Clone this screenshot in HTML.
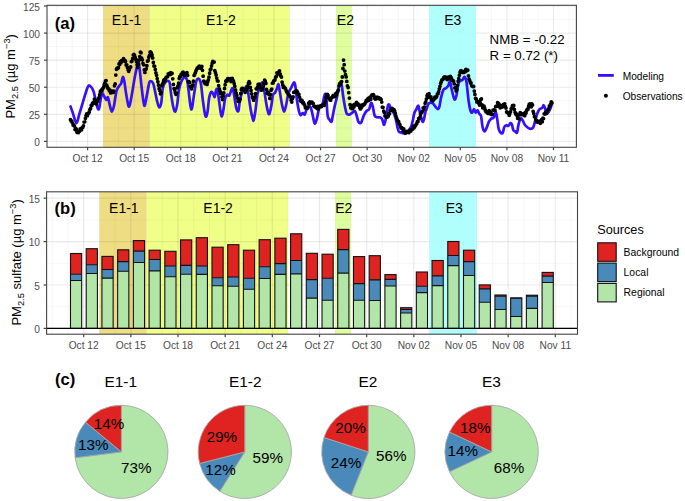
<!DOCTYPE html><html><head><meta charset="utf-8"><style>html,body{margin:0;padding:0;background:#fff;}svg{display:block;}text{font-family:"Liberation Sans", sans-serif;}</style></head><body>
<svg width="685" height="501" viewBox="0 0 685 501">
<rect width="685" height="501" fill="#fff"/>
<clipPath id="ca"><rect x="47" y="5.3" width="529.4" height="142"/></clipPath>
<rect x="47" y="5.3" width="529.4" height="142" fill="#fff"/>
<g clip-path="url(#ca)">
<rect x="103.13" y="5.3" width="46.59" height="142" fill="#EFDD83"/>
<rect x="149.72" y="5.3" width="139.77" height="142" fill="#F0FF87"/>
<rect x="336.08" y="5.3" width="15.53" height="142" fill="#DFFE9D"/>
<rect x="429.26" y="5.3" width="46.59" height="142" fill="#B0FFFB"/>
<line x1="47" x2="576.4" y1="127.86" y2="127.86" stroke="#000" stroke-opacity="0.05" stroke-width="0.7"/>
<line x1="47" x2="576.4" y1="100.78" y2="100.78" stroke="#000" stroke-opacity="0.05" stroke-width="0.7"/>
<line x1="47" x2="576.4" y1="73.7" y2="73.7" stroke="#000" stroke-opacity="0.05" stroke-width="0.7"/>
<line x1="47" x2="576.4" y1="46.62" y2="46.62" stroke="#000" stroke-opacity="0.05" stroke-width="0.7"/>
<line x1="47" x2="576.4" y1="19.54" y2="19.54" stroke="#000" stroke-opacity="0.05" stroke-width="0.7"/>
<line x1="47" x2="576.4" y1="141.4" y2="141.4" stroke="#000" stroke-opacity="0.08" stroke-width="1.2"/>
<line x1="47" x2="576.4" y1="114.32" y2="114.32" stroke="#000" stroke-opacity="0.08" stroke-width="1.2"/>
<line x1="47" x2="576.4" y1="87.24" y2="87.24" stroke="#000" stroke-opacity="0.08" stroke-width="1.2"/>
<line x1="47" x2="576.4" y1="60.16" y2="60.16" stroke="#000" stroke-opacity="0.08" stroke-width="1.2"/>
<line x1="47" x2="576.4" y1="33.08" y2="33.08" stroke="#000" stroke-opacity="0.08" stroke-width="1.2"/>
<line x1="47" x2="576.4" y1="6" y2="6" stroke="#000" stroke-opacity="0.08" stroke-width="1.2"/>
<line x1="56.54" x2="56.54" y1="5.3" y2="147.3" stroke="#000" stroke-opacity="0.05" stroke-width="0.7"/>
<line x1="72.07" x2="72.07" y1="5.3" y2="147.3" stroke="#000" stroke-opacity="0.05" stroke-width="0.7"/>
<line x1="87.6" x2="87.6" y1="5.3" y2="147.3" stroke="#000" stroke-opacity="0.08" stroke-width="1.2"/>
<line x1="103.13" x2="103.13" y1="5.3" y2="147.3" stroke="#000" stroke-opacity="0.05" stroke-width="0.7"/>
<line x1="118.66" x2="118.66" y1="5.3" y2="147.3" stroke="#000" stroke-opacity="0.05" stroke-width="0.7"/>
<line x1="134.19" x2="134.19" y1="5.3" y2="147.3" stroke="#000" stroke-opacity="0.08" stroke-width="1.2"/>
<line x1="149.72" x2="149.72" y1="5.3" y2="147.3" stroke="#000" stroke-opacity="0.05" stroke-width="0.7"/>
<line x1="165.25" x2="165.25" y1="5.3" y2="147.3" stroke="#000" stroke-opacity="0.05" stroke-width="0.7"/>
<line x1="180.78" x2="180.78" y1="5.3" y2="147.3" stroke="#000" stroke-opacity="0.08" stroke-width="1.2"/>
<line x1="196.31" x2="196.31" y1="5.3" y2="147.3" stroke="#000" stroke-opacity="0.05" stroke-width="0.7"/>
<line x1="211.84" x2="211.84" y1="5.3" y2="147.3" stroke="#000" stroke-opacity="0.05" stroke-width="0.7"/>
<line x1="227.37" x2="227.37" y1="5.3" y2="147.3" stroke="#000" stroke-opacity="0.08" stroke-width="1.2"/>
<line x1="242.9" x2="242.9" y1="5.3" y2="147.3" stroke="#000" stroke-opacity="0.05" stroke-width="0.7"/>
<line x1="258.43" x2="258.43" y1="5.3" y2="147.3" stroke="#000" stroke-opacity="0.05" stroke-width="0.7"/>
<line x1="273.96" x2="273.96" y1="5.3" y2="147.3" stroke="#000" stroke-opacity="0.08" stroke-width="1.2"/>
<line x1="289.49" x2="289.49" y1="5.3" y2="147.3" stroke="#000" stroke-opacity="0.05" stroke-width="0.7"/>
<line x1="305.02" x2="305.02" y1="5.3" y2="147.3" stroke="#000" stroke-opacity="0.05" stroke-width="0.7"/>
<line x1="320.55" x2="320.55" y1="5.3" y2="147.3" stroke="#000" stroke-opacity="0.08" stroke-width="1.2"/>
<line x1="336.08" x2="336.08" y1="5.3" y2="147.3" stroke="#000" stroke-opacity="0.05" stroke-width="0.7"/>
<line x1="351.61" x2="351.61" y1="5.3" y2="147.3" stroke="#000" stroke-opacity="0.05" stroke-width="0.7"/>
<line x1="367.14" x2="367.14" y1="5.3" y2="147.3" stroke="#000" stroke-opacity="0.08" stroke-width="1.2"/>
<line x1="382.67" x2="382.67" y1="5.3" y2="147.3" stroke="#000" stroke-opacity="0.05" stroke-width="0.7"/>
<line x1="398.2" x2="398.2" y1="5.3" y2="147.3" stroke="#000" stroke-opacity="0.05" stroke-width="0.7"/>
<line x1="413.73" x2="413.73" y1="5.3" y2="147.3" stroke="#000" stroke-opacity="0.08" stroke-width="1.2"/>
<line x1="429.26" x2="429.26" y1="5.3" y2="147.3" stroke="#000" stroke-opacity="0.05" stroke-width="0.7"/>
<line x1="444.79" x2="444.79" y1="5.3" y2="147.3" stroke="#000" stroke-opacity="0.05" stroke-width="0.7"/>
<line x1="460.32" x2="460.32" y1="5.3" y2="147.3" stroke="#000" stroke-opacity="0.08" stroke-width="1.2"/>
<line x1="475.85" x2="475.85" y1="5.3" y2="147.3" stroke="#000" stroke-opacity="0.05" stroke-width="0.7"/>
<line x1="491.38" x2="491.38" y1="5.3" y2="147.3" stroke="#000" stroke-opacity="0.05" stroke-width="0.7"/>
<line x1="506.91" x2="506.91" y1="5.3" y2="147.3" stroke="#000" stroke-opacity="0.08" stroke-width="1.2"/>
<line x1="522.44" x2="522.44" y1="5.3" y2="147.3" stroke="#000" stroke-opacity="0.05" stroke-width="0.7"/>
<line x1="537.97" x2="537.97" y1="5.3" y2="147.3" stroke="#000" stroke-opacity="0.05" stroke-width="0.7"/>
<line x1="553.5" x2="553.5" y1="5.3" y2="147.3" stroke="#000" stroke-opacity="0.08" stroke-width="1.2"/>
<line x1="569.03" x2="569.03" y1="5.3" y2="147.3" stroke="#000" stroke-opacity="0.05" stroke-width="0.7"/>
<rect x="429.26" y="5.3" width="46.59" height="142" fill="#B0FFFB" fill-opacity="0.85"/>
</g>
<g clip-path="url(#ca)">
<path d="M70.5,106.4C70.88,107.48 71.82,110.1 72.8,112.9C73.78,115.7 75.32,122.98 76.4,123.2C77.48,123.42 78.17,117.87 79.3,114.2C80.43,110.53 82.02,105.1 83.2,101.2C84.38,97.3 85.5,93.4 86.4,90.8C87.3,88.2 87.73,86.15 88.6,85.6C89.47,85.05 90.73,86.42 91.6,87.5C92.47,88.58 93.15,90.03 93.8,92.1C94.45,94.17 94.88,97.3 95.5,99.9C96.12,102.5 96.92,106.18 97.5,107.7C98.08,109.22 98.53,109.98 99,109C99.47,108.02 99.8,104.4 100.3,101.8C100.8,99.2 101.38,94.37 102,93.4C102.62,92.43 103.28,94.92 104,96C104.72,97.08 105.65,99.68 106.3,99.9C106.95,100.12 107.32,96.43 107.9,97.3C108.48,98.17 109.15,102.72 109.8,105.1C110.45,107.48 111.1,111.5 111.8,111.6C112.5,111.7 113.23,109.08 114,105.7C114.77,102.32 115.6,94.5 116.4,91.3C117.2,88.1 118,87.83 118.8,86.5C119.6,85.17 120.53,84.88 121.2,83.3C121.87,81.72 122.27,77.27 122.8,77C123.33,76.73 123.87,79.05 124.4,81.7C124.93,84.35 125.33,88.9 126,92.9C126.67,96.9 127.73,103.83 128.4,105.7C129.07,107.57 129.33,106.5 130,104.1C130.67,101.7 131.6,95.82 132.4,91.3C133.2,86.78 134,81.25 134.8,77C135.6,72.75 136.6,68.47 137.2,65.8C137.8,63.13 137.93,59.93 138.4,61C138.87,62.07 139.42,67.42 140,72.2C140.58,76.98 141.18,84.12 141.9,89.7C142.62,95.28 143.5,104.63 144.3,105.7C145.1,106.77 145.9,99.83 146.7,96.1C147.5,92.37 148.43,85.82 149.1,83.3C149.77,80.78 150.03,81 150.7,81C151.37,81 152.43,81.85 153.1,83.3C153.77,84.75 154.03,86.73 154.7,89.7C155.37,92.67 156.35,98.15 157.1,101.1C157.85,104.05 158.5,107.17 159.2,107.4C159.9,107.63 160.72,105.65 161.3,102.5C161.88,99.35 162.12,91.77 162.7,88.5C163.28,85.23 163.98,84.18 164.8,82.9C165.62,81.62 166.78,80.8 167.6,80.8C168.42,80.8 169.12,80.68 169.7,82.9C170.28,85.12 170.52,90.13 171.1,94.1C171.68,98.07 172.5,103.78 173.2,106.7C173.9,109.62 174.62,112.07 175.3,111.6C175.98,111.13 176.73,107.28 177.3,103.9C177.87,100.52 178.12,94.8 178.7,91.3C179.28,87.8 179.87,85.23 180.8,82.9C181.73,80.57 183.25,77.77 184.3,77.3C185.35,76.83 186.4,78 187.1,80.1C187.8,82.2 187.92,85.47 188.5,89.9C189.08,94.33 190.02,103.67 190.6,106.7C191.18,109.73 191.42,110.2 192,108.1C192.58,106 193.4,98.53 194.1,94.1C194.8,89.67 195.5,84.07 196.2,81.5C196.9,78.93 197.6,78.7 198.3,78.7C199,78.7 199.88,80.1 200.4,81.5C200.92,82.9 201,84.07 201.4,87.1C201.8,90.13 202.22,95.27 202.8,99.7C203.38,104.13 204.32,110.9 204.9,113.7C205.48,116.5 205.83,116.97 206.3,116.5C206.77,116.03 207.23,113.93 207.7,110.9C208.17,107.87 208.52,101.45 209.1,98.3C209.68,95.15 210.5,92.7 211.2,92C211.9,91.3 212.72,93.28 213.3,94.1C213.88,94.92 214.23,97.6 214.7,96.9C215.17,96.2 215.63,91.07 216.1,89.9C216.57,88.73 217.03,88.27 217.5,89.9C217.97,91.53 218.33,95.73 218.9,99.7C219.47,103.67 220.37,111.02 220.9,113.7C221.43,116.38 221.63,116.73 222.1,115.8C222.57,114.87 223.2,111.02 223.7,108.1C224.2,105.18 224.52,100.52 225.1,98.3C225.68,96.08 226.5,95.27 227.2,94.8C227.9,94.33 228.6,96.32 229.3,95.5C230,94.68 230.82,91.07 231.4,89.9C231.98,88.73 232.33,87.57 232.8,88.5C233.27,89.43 233.62,92.23 234.2,95.5C234.78,98.77 235.6,105.53 236.3,108.1C237,110.67 237.82,112.07 238.4,110.9C238.98,109.73 239.22,104.13 239.8,101.1C240.38,98.07 241.08,94.8 241.9,92.7C242.72,90.6 243.83,89.53 244.7,88.5C245.57,87.47 246.47,85.43 247.1,86.5C247.73,87.57 247.92,91.17 248.5,94.9C249.08,98.63 249.9,104.93 250.6,108.9C251.3,112.87 252.18,116.83 252.7,118.7C253.22,120.57 253.23,121.5 253.7,120.1C254.17,118.7 254.85,114.73 255.5,110.3C256.15,105.87 256.78,97.47 257.6,93.5C258.42,89.53 259.58,88.37 260.4,86.5C261.22,84.63 261.92,82.07 262.5,82.3C263.08,82.53 263.32,84.63 263.9,87.9C264.48,91.17 265.32,97.93 266,101.9C266.68,105.87 267.43,109.72 268,111.7C268.57,113.68 268.82,114.97 269.4,113.8C269.98,112.63 270.92,107.85 271.5,104.7C272.08,101.55 272.32,96.88 272.9,94.9C273.48,92.92 274.3,93.97 275,92.8C275.7,91.63 276.52,89.3 277.1,87.9C277.68,86.5 278.03,83.7 278.5,84.4C278.97,85.1 279.32,88.72 279.9,92.1C280.48,95.48 281.3,101.43 282,104.7C282.7,107.97 283.4,111.7 284.1,111.7C284.8,111.7 285.5,107.73 286.2,104.7C286.9,101.67 287.48,96.3 288.3,93.5C289.12,90.7 290.12,89.77 291.1,87.9C292.08,86.03 293.45,82.3 294.2,82.3C294.95,82.3 295.13,84.87 295.6,87.9C296.07,90.93 296.42,96.53 297,100.5C297.58,104.47 298.52,109.25 299.1,111.7C299.68,114.15 299.92,114.97 300.5,115.2C301.08,115.43 301.9,113.22 302.6,113.1C303.3,112.98 304,115.2 304.7,114.5C305.4,113.8 305.98,110.3 306.8,108.9C307.62,107.5 308.8,105.87 309.6,106.1C310.4,106.33 310.92,107.97 311.6,110.3C312.28,112.63 313.12,117.9 313.7,120.1C314.28,122.3 314.52,123.97 315.1,123.5C315.68,123.03 316.5,119.97 317.2,117.3C317.9,114.63 318.48,109.37 319.3,107.5C320.12,105.63 321.28,107.97 322.1,106.1C322.92,104.23 323.62,98.28 324.2,96.3C324.78,94.32 325.2,93.27 325.6,94.2C326,95.13 326.25,98.28 326.6,101.9C326.95,105.52 327.17,112.87 327.7,115.9C328.23,118.93 329.15,119.17 329.8,120.1C330.45,121.03 331.02,122.67 331.6,121.5C332.18,120.33 332.78,115.67 333.3,113.1C333.82,110.53 334.12,108.67 334.7,106.1C335.28,103.53 336.1,100.97 336.8,97.7C337.5,94.43 338.15,88.92 338.9,86.5C339.65,84.08 340.6,81.65 341.3,83.2C342,84.75 342.5,91.92 343.1,95.8C343.7,99.68 344.3,103.52 344.9,106.5C345.5,109.48 345.95,112.35 346.7,113.7C347.45,115.05 348.5,114.75 349.4,114.6C350.3,114.45 351.2,113.4 352.1,112.8C353,112.2 354.05,110.55 354.8,111C355.55,111.45 356,113.7 356.6,115.5C357.2,117.3 357.65,120.6 358.4,121.8C359.15,123 360.2,123.75 361.1,122.7C362,121.65 362.9,117.45 363.8,115.5C364.7,113.55 365.6,112.05 366.5,111C367.4,109.95 368.45,110.53 369.2,109.2C369.95,107.87 370.4,103.45 371,103C371.6,102.55 372.2,104.42 372.8,106.5C373.4,108.58 373.85,113.7 374.6,115.5C375.35,117.3 376.4,117 377.3,117.3C378.2,117.6 379.2,117 380,117.3C380.8,117.6 381.4,117.87 382.1,119.1C382.8,120.33 383.5,125.17 384.2,124.7C384.9,124.23 385.72,119.33 386.3,116.3C386.88,113.27 387.23,108.48 387.7,106.5C388.17,104.52 388.63,104.17 389.1,104.4C389.57,104.63 390.03,106.85 390.5,107.9C390.97,108.95 391.32,109.77 391.9,110.7C392.48,111.63 393.3,111.87 394,113.5C394.7,115.13 395.52,118.17 396.1,120.5C396.68,122.83 397.03,125.63 397.5,127.5C397.97,129.37 398.33,130.88 398.9,131.7C399.47,132.52 400.22,132.17 400.9,132.4C401.58,132.63 402.3,132.87 403,133.1C403.7,133.33 404.4,134.03 405.1,133.8C405.8,133.57 406.5,132.4 407.2,131.7C407.9,131 408.6,130.53 409.3,129.6C410,128.67 410.82,127.62 411.4,126.1C411.98,124.58 412.33,122.6 412.8,120.5C413.27,118.4 413.62,115.37 414.2,113.5C414.78,111.63 415.6,110.58 416.3,109.3C417,108.02 417.82,105.33 418.4,105.8C418.98,106.27 419.33,110.12 419.8,112.1C420.27,114.08 420.73,116.07 421.2,117.7C421.67,119.33 422.13,121.67 422.6,121.9C423.07,122.13 423.53,120.73 424,119.1C424.47,117.47 424.97,113.77 425.4,112.1C425.83,110.43 426.13,110.4 426.6,109.1C427.07,107.8 427.53,105.37 428.2,104.3C428.87,103.23 429.8,102.83 430.6,102.7C431.4,102.57 432.2,102.83 433,103.5C433.8,104.17 434.6,105.77 435.4,106.7C436.2,107.63 437.13,109.1 437.8,109.1C438.47,109.1 438.87,108.57 439.4,106.7C439.93,104.83 440.33,100.7 441,97.9C441.67,95.1 442.6,91.5 443.4,89.9C444.2,88.3 445,88.97 445.8,88.3C446.6,87.63 447.5,87.02 448.2,85.9C448.9,84.78 449.4,80.93 450,81.6C450.6,82.27 451.2,87.32 451.8,89.9C452.4,92.48 453.07,95.5 453.6,97.1C454.13,98.7 454.5,99.9 455,99.5C455.5,99.1 456.03,97.28 456.6,94.7C457.17,92.12 457.8,86.28 458.4,84C459,81.72 459.5,81.7 460.2,81C460.9,80.3 461.9,80.5 462.6,79.8C463.3,79.1 463.8,76.7 464.4,76.8C465,76.9 465.7,78.22 466.2,80.4C466.7,82.58 467,86.52 467.4,89.9C467.8,93.28 468.1,97.3 468.6,100.7C469.1,104.1 469.8,108.3 470.4,110.3C471,112.3 471.6,112.9 472.2,112.7C472.8,112.5 473.42,109.1 474,109.1C474.58,109.1 475.12,112.5 475.7,112.7C476.28,112.9 476.9,110.1 477.5,110.3C478.1,110.5 478.7,112.9 479.3,113.9C479.9,114.9 480.55,114.07 481.1,116.3C481.65,118.53 482,124.77 482.6,127.3C483.2,129.83 484,131.5 484.7,131.5C485.4,131.5 486.1,128.93 486.8,127.3C487.5,125.67 488.22,123.1 488.9,121.7C489.58,120.3 490.1,119.6 490.9,118.9C491.7,118.2 492.88,118.67 493.7,117.5C494.52,116.33 495.22,111.67 495.8,111.9C496.38,112.13 496.73,116.1 497.2,118.9C497.67,121.7 498.02,126.38 498.6,128.7C499.18,131.02 500,132.12 500.7,132.8C501.4,133.48 502.22,133.72 502.8,132.8C503.38,131.88 503.62,128.57 504.2,127.3C504.78,126.03 505.6,125.43 506.3,125.2C507,124.97 507.7,126.25 508.4,125.9C509.1,125.55 509.92,123.33 510.5,123.1C511.08,122.87 511.43,123.35 511.9,124.5C512.37,125.65 512.72,128.83 513.3,130C513.88,131.17 514.77,131.1 515.4,131.5C516.03,131.9 516.58,133.53 517.1,132.4C517.62,131.27 517.92,127.03 518.5,124.7C519.08,122.37 519.9,119.1 520.6,118.4C521.3,117.7 522,119.45 522.7,120.5C523.4,121.55 523.98,123.53 524.8,124.7C525.62,125.87 526.67,126.8 527.6,127.5C528.53,128.2 529.47,128.9 530.4,128.9C531.33,128.9 532.38,128.9 533.2,127.5C534.02,126.1 534.62,122.83 535.3,120.5C535.98,118.17 536.62,115.37 537.3,113.5C537.98,111.63 538.58,110.23 539.4,109.3C540.22,108.37 541.5,108.6 542.2,107.9C542.9,107.2 543.13,105.1 543.6,105.1C544.07,105.1 544.53,106.5 545,107.9C545.47,109.3 545.82,112.8 546.4,113.5C546.98,114.2 547.8,113.03 548.5,112.1C549.2,111.17 550.02,109.3 550.6,107.9C551.18,106.5 551.77,104.4 552,103.7" fill="none" stroke="#3510FF" stroke-width="2.7" stroke-linejoin="round" stroke-linecap="round"/>
<path d="M70.5,119.76h0M71.15,121.11h0M71.79,121.12h0M72.44,123.09h0M73.09,124.98h0M73.74,124.94h0M74.38,126.02h0M75.03,129.56h0M75.68,128.49h0M76.32,129.12h0M76.97,132.35h0M77.62,131.56h0M78.26,132.7h0M78.91,131.18h0M79.56,131.19h0M80.21,129.01h0M80.85,129.83h0M81.5,129.73h0M82.15,127.68h0M82.79,127.32h0M83.44,125.84h0M84.09,122.06h0M84.74,121.87h0M85.38,118.34h0M86.03,115.69h0M86.68,113.84h0M87.32,115.69h0M87.97,113.55h0M88.62,113.13h0M89.27,111.88h0M89.91,109.4h0M90.56,108.46h0M91.21,105.47h0M91.85,105.58h0M92.5,103.23h0M93.15,103.39h0M93.79,102.05h0M94.44,99.24h0M95.09,100.12h0M95.74,101.33h0M96.38,103.93h0M97.03,101.6h0M97.68,101.14h0M98.32,98.77h0M98.97,97.53h0M99.62,94.77h0M100.27,91.7h0M100.91,90.65h0M101.56,89.83h0M102.21,90.2h0M102.85,88.45h0M103.5,87.29h0M104.15,85h0M104.8,83.29h0M105.44,80.96h0M106.09,80.55h0M106.74,85.27h0M107.38,87.25h0M108.03,88.48h0M108.68,88.86h0M109.32,90.67h0M109.97,90.12h0M110.62,92.92h0M111.27,92.69h0M111.91,92.02h0M112.56,91.03h0M113.21,92.41h0M113.85,91.07h0M114.5,85.84h0M115.15,83.9h0M115.8,75.06h0M116.44,69.33h0M117.09,68.12h0M117.74,68.46h0M118.38,67.72h0M119.03,63.92h0M119.68,64.61h0M120.33,61.71h0M120.97,62.84h0M121.62,60.54h0M122.27,61.06h0M122.91,60.39h0M123.56,58.6h0M124.21,60.97h0M124.85,60.34h0M125.5,61.48h0M126.15,64.91h0M126.8,64.97h0M127.44,67.45h0M128.09,69.79h0M128.74,71.23h0M129.38,69.41h0M130.03,67.43h0M130.68,66.9h0M131.33,61.54h0M131.97,61.09h0M132.62,58.59h0M133.27,55.11h0M133.91,54.49h0M134.56,55.29h0M135.21,57.43h0M135.86,59.52h0M136.5,61.51h0M137.15,64.73h0M137.8,67.45h0M138.44,64.1h0M139.09,59.94h0M139.74,56.71h0M140.38,52.2h0M141.03,52.77h0M141.68,58.27h0M142.33,59.85h0M142.97,63.34h0M143.62,64.83h0M144.27,69.92h0M144.91,72.47h0M145.56,69.64h0M146.21,68.83h0M146.86,65.77h0M147.5,61.18h0M148.15,60.44h0M148.8,57.29h0M149.44,55.46h0M150.09,52.24h0M150.74,52.04h0M151.39,53.13h0M152.03,54.88h0M152.68,57.91h0M153.33,62.47h0M153.97,65.98h0M154.62,66.2h0M155.27,69.45h0M155.91,72.84h0M156.56,75.2h0M157.21,78.61h0M157.86,81.73h0M158.5,85.15h0M159.15,88.67h0M159.8,90.41h0M160.44,93.77h0M161.09,92.58h0M161.74,85.64h0M162.39,84.33h0M163.03,82.98h0M163.68,80.47h0M164.33,79.57h0M164.97,80.93h0M165.62,78.4h0M166.27,77.2h0M166.92,76.85h0M167.56,76.68h0M168.21,73.98h0M168.86,74.01h0M169.5,73.51h0M170.15,74.55h0M170.8,72.61h0M171.45,73.81h0M172.09,73.29h0M172.74,78.78h0M173.39,84.46h0M174.03,88.53h0M174.68,90.12h0M175.33,92.8h0M175.97,94.29h0M176.62,93.07h0M177.27,87.68h0M177.92,86.16h0M178.56,83.15h0M179.21,78.5h0M179.86,76.48h0M180.5,76.25h0M181.15,74.47h0M181.8,74.39h0M182.45,72.72h0M183.09,72.05h0M183.74,73.03h0M184.39,75.25h0M185.03,73.86h0M185.68,73.55h0M186.33,72.91h0M186.98,72.76h0M187.62,75.32h0M188.27,81.79h0M188.92,81.62h0M189.56,82.47h0M190.21,86.52h0M190.86,87.38h0M191.5,88.87h0M192.15,86.49h0M192.8,84.98h0M193.45,81.24h0M194.09,75.39h0M194.74,74.18h0M195.39,72.66h0M196.03,70.77h0M196.68,69.33h0M197.33,67.9h0M197.98,67.59h0M198.62,66.92h0M199.27,66.25h0M199.92,67.88h0M200.56,66.87h0M201.21,68.6h0M201.86,66.48h0M202.51,70.31h0M203.15,76.18h0M203.8,81.17h0M204.45,82.66h0M205.09,83.69h0M205.74,83.38h0M206.39,82.05h0M207.03,84.47h0M207.68,81.98h0M208.33,79.96h0M208.98,77.18h0M209.62,73.27h0M210.27,69.66h0M210.92,68.92h0M211.56,65.82h0M212.21,63.13h0M212.86,61.34h0M213.51,62.15h0M214.15,62.03h0M214.8,70.57h0M215.45,72.69h0M216.09,75.01h0M216.74,78.04h0M217.39,80.73h0M218.04,81.11h0M218.68,85.75h0M219.33,88.8h0M219.98,90.89h0M220.62,93.31h0M221.27,92.91h0M221.92,96.92h0M222.56,99.52h0M223.21,96.2h0M223.86,92.93h0M224.51,88.49h0M225.15,84.69h0M225.8,81.25h0M226.45,80.36h0M227.09,81.09h0M227.74,78.54h0M228.39,78.59h0M229.04,78.81h0M229.68,78.84h0M230.33,78.71h0M230.98,81.59h0M231.62,81.03h0M232.27,78.47h0M232.92,80.27h0M233.57,81.34h0M234.21,83.75h0M234.86,86.29h0M235.51,89.95h0M236.15,92.91h0M236.8,95.52h0M237.45,98.1h0M238.09,101.31h0M238.74,101.32h0M239.39,101.37h0M240.04,99.18h0M240.68,93.5h0M241.33,89.57h0M241.98,88.5h0M242.62,88.37h0M243.27,88.84h0M243.92,90.03h0M244.57,90.04h0M245.21,92.25h0M245.86,91.28h0M246.51,89.48h0M247.15,87.67h0M247.8,85.89h0M248.45,83.05h0M249.1,81.67h0M249.74,83.2h0M250.39,87.48h0M251.04,90.49h0M251.68,93.81h0M252.33,97.06h0M252.98,98.16h0M253.62,100.17h0M254.27,98.29h0M254.92,97h0M255.57,93.56h0M256.21,88.86h0M256.86,88.73h0M257.51,87.03h0M258.15,84.46h0M258.8,84.9h0M259.45,84.21h0M260.1,87.13h0M260.74,87.65h0M261.39,90.14h0M262.04,89.91h0M262.68,87.28h0M263.33,85.52h0M263.98,83.14h0M264.63,80.09h0M265.27,81.25h0M265.92,83.41h0M266.57,89.4h0M267.21,93.35h0M267.86,92.16h0M268.51,93.27h0M269.15,94.67h0M269.8,98.45h0M270.45,94.73h0M271.1,90.24h0M271.74,89.05h0M272.39,83.14h0M273.04,83h0M273.68,81.02h0M274.33,80.45h0M274.98,79.69h0M275.63,77.14h0M276.27,76.46h0M276.92,72.8h0M277.57,74.15h0M278.21,72.45h0M278.86,72.59h0M279.51,70.84h0M280.16,73.86h0M280.8,76.11h0M281.45,77h0M282.1,82.11h0M282.74,84.96h0M283.39,87.46h0M284.04,86.96h0M284.68,87.65h0M285.33,88.37h0M285.98,90.08h0M286.63,91.72h0M287.27,92.45h0M287.92,93.58h0M288.57,94.48h0M289.21,95.11h0M289.86,96.36h0M290.51,97.1h0M291.16,100.14h0M291.8,102.01h0M292.45,98.61h0M293.1,97.02h0M293.74,92.41h0M294.39,92.33h0M295.04,91.67h0M295.69,91.15h0M296.33,90.77h0M296.98,91.12h0M297.63,92.46h0M298.27,94.48h0M298.92,94.33h0M299.57,97.19h0M300.21,100.44h0M300.86,101.31h0M301.51,100.25h0M302.16,100.67h0M302.8,102.9h0M303.45,102.6h0M304.1,104.21h0M304.74,105.33h0M305.39,107.76h0M306.04,108.12h0M306.69,108.16h0M307.33,108.34h0M307.98,107.17h0M308.63,103.21h0M309.27,103.4h0M309.92,101.82h0M310.57,102.98h0M311.22,102.29h0M311.86,102.07h0M312.51,103.02h0M313.16,103.4h0M313.8,105.9h0M314.45,106.53h0M315.1,106.45h0M315.74,107.28h0M316.39,107.2h0M317.04,108.58h0M317.69,106.42h0M318.33,108.89h0M318.98,106.8h0M319.63,106.66h0M320.27,105.85h0M320.92,106.7h0M321.57,106.35h0M322.22,105.19h0M322.86,104.61h0M323.51,105.16h0M324.16,105.41h0M324.8,103.21h0M325.45,101.11h0M326.1,97.39h0M326.75,94.72h0M327.39,94.4h0M328.04,95.37h0M328.69,97.89h0M329.33,98.5h0M329.98,100.07h0M330.63,100.19h0M331.27,98.24h0M331.92,97.4h0M332.57,96.57h0M333.22,95.39h0M333.86,96.52h0M334.51,96.67h0M335.16,96.4h0M335.8,93.73h0M336.45,95.02h0M337.1,92.32h0M337.75,91.22h0M338.39,90.12h0M339.04,85.73h0M339.69,83.53h0M340.33,84.38h0M340.98,82.14h0M341.63,81.57h0M342.28,77.01h0M342.92,68.51h0M343.57,60.06h0M344.22,64.69h0M344.86,71.04h0M345.51,74.6h0M346.16,76.89h0M346.8,81.4h0M347.45,85.96h0M348.1,87.51h0M348.75,92.64h0M349.39,98.12h0M350.04,104.65h0M350.69,107.8h0M351.33,106.36h0M351.98,108.69h0M352.63,108.34h0M353.28,105.06h0M353.92,107.01h0M354.57,104.5h0M355.22,105.19h0M355.86,104.49h0M356.51,102.48h0M357.16,103.48h0M357.81,103.76h0M358.45,105.33h0M359.1,105h0M359.75,107.76h0M360.39,108.94h0M361.04,107.91h0M361.69,106.98h0M362.33,104.96h0M362.98,105.5h0M363.63,104.28h0M364.28,104.57h0M364.92,103.53h0M365.57,102.35h0M366.22,100.39h0M366.86,101.2h0M367.51,100.52h0M368.16,98.49h0M368.81,100.29h0M369.45,99.18h0M370.1,97.12h0M370.75,99.24h0M371.39,95.82h0M372.04,94.88h0M372.69,94.86h0M373.34,94.53h0M373.98,95.91h0M374.63,98.17h0M375.28,99.02h0M375.92,98.89h0M376.57,98.06h0M377.22,97.04h0M377.86,98.47h0M378.51,98.39h0M379.16,97.91h0M379.81,99.07h0M380.45,98.55h0M381.1,99.38h0M381.75,102.11h0M382.39,107.22h0M383.04,107.36h0M383.69,111.13h0M384.34,112.41h0M384.98,115.99h0M385.63,116.33h0M386.28,117.15h0M386.92,117.13h0M387.57,116.63h0M388.22,116.2h0M388.87,113.48h0M389.51,113.83h0M390.16,110.24h0M390.81,109.7h0M391.45,108.55h0M392.1,108.41h0M392.75,110.64h0M393.39,110.79h0M394.04,109.76h0M394.69,111.08h0M395.34,113.41h0M395.98,116.23h0M396.63,118.25h0M397.28,119.79h0M397.92,121.07h0M398.57,121.36h0M399.22,123.74h0M399.87,124.61h0M400.51,126.97h0M401.16,128.08h0M401.81,127.67h0M402.45,128.47h0M403.1,130.73h0M403.75,128.83h0M404.4,131.76h0M405.04,132.44h0M405.69,132.93h0M406.34,131.3h0M406.98,131.89h0M407.63,131.9h0M408.28,131.87h0M408.92,132.71h0M409.57,131.45h0M410.22,129.8h0M410.87,131.1h0M411.51,129.36h0M412.16,129.17h0M412.81,128.98h0M413.45,126.04h0M414.1,127.84h0M414.75,126.79h0M415.4,125.5h0M416.04,124.8h0M416.69,123.67h0M417.34,121.74h0M417.98,121.6h0M418.63,118.69h0M419.28,118.66h0M419.93,117.21h0M420.57,114.5h0M421.22,112.72h0M421.87,112.24h0M422.51,111.04h0M423.16,107.91h0M423.81,109.18h0M424.45,107.22h0M425.1,103.31h0M425.75,101.96h0M426.4,98.94h0M427.04,95.82h0M427.69,94.4h0M428.34,94.46h0M428.98,93.75h0M429.63,97.18h0M430.28,97.72h0M430.93,96.99h0M431.57,100.17h0M432.22,99.83h0M432.87,100.81h0M433.51,99.69h0M434.16,99.12h0M434.81,97.19h0M435.46,97.92h0M436.1,97.47h0M436.75,96.27h0M437.4,93.83h0M438.04,93.71h0M438.69,91.56h0M439.34,88.82h0M439.98,86.29h0M440.63,83.44h0M441.28,81.75h0M441.93,79.96h0M442.57,79.56h0M443.22,78.94h0M443.87,77.5h0M444.51,76.87h0M445.16,77.74h0M445.81,77.13h0M446.46,78.25h0M447.1,79.58h0M447.75,78.36h0M448.4,77.1h0M449.04,78.7h0M449.69,77.58h0M450.34,76.5h0M450.99,77.3h0M451.63,79h0M452.28,80.32h0M452.93,80.35h0M453.57,81.14h0M454.22,83.79h0M454.87,87.89h0M455.51,87.89h0M456.16,90.89h0M456.81,89.44h0M457.46,85.31h0M458.1,81.28h0M458.75,78.75h0M459.4,75.26h0M460.04,72.25h0M460.69,70.9h0M461.34,70.81h0M461.99,72.37h0M462.63,71.61h0M463.28,71.64h0M463.93,72.46h0M464.57,71.47h0M465.22,71.67h0M465.87,69.3h0M466.52,70.36h0M467.16,70.52h0M467.81,70.06h0M468.46,75.85h0M469.1,79.05h0M469.75,80.65h0M470.4,82.93h0M471.04,83.02h0M471.69,85.79h0M472.34,86.2h0M472.99,86.52h0M473.63,86.51h0M474.28,91.06h0M474.93,94.43h0M475.57,98.35h0M476.22,99h0M476.87,101.97h0M477.52,101.29h0M478.16,102.47h0M478.81,103.5h0M479.46,105.11h0M480.1,102.59h0M480.75,99.46h0M481.4,98.89h0M482.05,105.02h0M482.69,107.78h0M483.34,107.27h0M483.99,106.11h0M484.63,107.95h0M485.28,110.15h0M485.93,111.64h0M486.57,112.12h0M487.22,112.44h0M487.87,113.39h0M488.52,113.03h0M489.16,110.58h0M489.81,113.53h0M490.46,112.57h0M491.1,114.15h0M491.75,114.58h0M492.4,114.04h0M493.05,110.07h0M493.69,109.89h0M494.34,110.03h0M494.99,110.31h0M495.63,106.65h0M496.28,106.03h0M496.93,106.18h0M497.58,102.55h0M498.22,103.22h0M498.87,103.95h0M499.52,106.28h0M500.16,107.77h0M500.81,105.59h0M501.46,107.36h0M502.1,107.04h0M502.75,106.52h0M503.4,104.44h0M504.05,104.86h0M504.69,103.87h0M505.34,106.51h0M505.99,108.1h0M506.63,111.93h0M507.28,112.42h0M507.93,113.04h0M508.58,113.58h0M509.22,115.29h0M509.87,113.48h0M510.52,111.69h0M511.16,108.82h0M511.81,107.87h0M512.46,105.75h0M513.11,106.96h0M513.75,105.48h0M514.4,109.4h0M515.05,112.34h0M515.69,114h0M516.34,113.87h0M516.99,115.55h0M517.63,118.3h0M518.28,118.09h0M518.93,118.67h0M519.58,114.71h0M520.22,112.61h0M520.87,114.5h0M521.52,114.65h0M522.16,114.03h0M522.81,114.51h0M523.46,113.58h0M524.11,114.38h0M524.75,115.7h0M525.4,112.33h0M526.05,112.98h0M526.69,110.51h0M527.34,109.11h0M527.99,109.16h0M528.64,106.26h0M529.28,104.16h0M529.93,104h0M530.58,106.41h0M531.22,106.75h0M531.87,104h0M532.52,105h0M533.16,111.35h0M533.81,113.58h0M534.46,116.66h0M535.11,117.1h0M535.75,119.66h0M536.4,120.52h0M537.05,122.04h0M537.69,121.98h0M538.34,121.42h0M538.99,121.63h0M539.64,121.25h0M540.28,123.32h0M540.93,120.55h0M541.58,119.59h0M542.22,121.75h0M542.87,118.19h0M543.52,118.56h0M544.17,113.87h0M544.81,113.98h0M545.46,112.44h0M546.11,113.6h0M546.75,111.84h0M547.4,110.6h0M548.05,109.62h0M548.69,108.74h0M549.34,105.98h0M549.99,105.76h0M550.64,104.16h0M551.28,101.84h0M551.93,102.82h0" fill="none" stroke="#000" stroke-width="3.8" stroke-linecap="round"/>
</g>
<rect x="47" y="5.3" width="529.4" height="142" fill="none" stroke="#444444" stroke-width="1.1"/>
<line x1="87.6" x2="87.6" y1="147.3" y2="150.3" stroke="#444444" stroke-width="1.2"/>
<text x="87.6" y="162" text-anchor="middle" font-size="10.2" fill="#4D4D4D">Oct 12</text>
<line x1="134.19" x2="134.19" y1="147.3" y2="150.3" stroke="#444444" stroke-width="1.2"/>
<text x="134.19" y="162" text-anchor="middle" font-size="10.2" fill="#4D4D4D">Oct 15</text>
<line x1="180.78" x2="180.78" y1="147.3" y2="150.3" stroke="#444444" stroke-width="1.2"/>
<text x="180.78" y="162" text-anchor="middle" font-size="10.2" fill="#4D4D4D">Oct 18</text>
<line x1="227.37" x2="227.37" y1="147.3" y2="150.3" stroke="#444444" stroke-width="1.2"/>
<text x="227.37" y="162" text-anchor="middle" font-size="10.2" fill="#4D4D4D">Oct 21</text>
<line x1="273.96" x2="273.96" y1="147.3" y2="150.3" stroke="#444444" stroke-width="1.2"/>
<text x="273.96" y="162" text-anchor="middle" font-size="10.2" fill="#4D4D4D">Oct 24</text>
<line x1="320.55" x2="320.55" y1="147.3" y2="150.3" stroke="#444444" stroke-width="1.2"/>
<text x="320.55" y="162" text-anchor="middle" font-size="10.2" fill="#4D4D4D">Oct 27</text>
<line x1="367.14" x2="367.14" y1="147.3" y2="150.3" stroke="#444444" stroke-width="1.2"/>
<text x="367.14" y="162" text-anchor="middle" font-size="10.2" fill="#4D4D4D">Oct 30</text>
<line x1="413.73" x2="413.73" y1="147.3" y2="150.3" stroke="#444444" stroke-width="1.2"/>
<text x="413.73" y="162" text-anchor="middle" font-size="10.2" fill="#4D4D4D">Nov 02</text>
<line x1="460.32" x2="460.32" y1="147.3" y2="150.3" stroke="#444444" stroke-width="1.2"/>
<text x="460.32" y="162" text-anchor="middle" font-size="10.2" fill="#4D4D4D">Nov 05</text>
<line x1="506.91" x2="506.91" y1="147.3" y2="150.3" stroke="#444444" stroke-width="1.2"/>
<text x="506.91" y="162" text-anchor="middle" font-size="10.2" fill="#4D4D4D">Nov 08</text>
<line x1="553.5" x2="553.5" y1="147.3" y2="150.3" stroke="#444444" stroke-width="1.2"/>
<text x="553.5" y="162" text-anchor="middle" font-size="10.2" fill="#4D4D4D">Nov 11</text>
<line x1="44" x2="47" y1="141.4" y2="141.4" stroke="#444444" stroke-width="1.2"/>
<text x="40" y="146" text-anchor="end" font-size="10.2" fill="#4D4D4D">0</text>
<line x1="44" x2="47" y1="114.32" y2="114.32" stroke="#444444" stroke-width="1.2"/>
<text x="40" y="118.92" text-anchor="end" font-size="10.2" fill="#4D4D4D">25</text>
<line x1="44" x2="47" y1="87.24" y2="87.24" stroke="#444444" stroke-width="1.2"/>
<text x="40" y="91.84" text-anchor="end" font-size="10.2" fill="#4D4D4D">50</text>
<line x1="44" x2="47" y1="60.16" y2="60.16" stroke="#444444" stroke-width="1.2"/>
<text x="40" y="64.76" text-anchor="end" font-size="10.2" fill="#4D4D4D">75</text>
<line x1="44" x2="47" y1="33.08" y2="33.08" stroke="#444444" stroke-width="1.2"/>
<text x="40" y="37.68" text-anchor="end" font-size="10.2" fill="#4D4D4D">100</text>
<line x1="44" x2="47" y1="6" y2="6" stroke="#444444" stroke-width="1.2"/>
<text x="40" y="10.6" text-anchor="end" font-size="10.2" fill="#4D4D4D">125</text>
<text x="54.8" y="29.2" font-size="16.6" font-weight="bold" fill="#000">(a)</text>
<text x="126.6" y="24.7" text-anchor="middle" font-size="14" fill="#000">E1-1</text>
<text x="220.9" y="24.7" text-anchor="middle" font-size="14" fill="#000">E1-2</text>
<text x="345.4" y="24.7" text-anchor="middle" font-size="14" fill="#000">E2</text>
<text x="452.8" y="24.7" text-anchor="middle" font-size="14" fill="#000">E3</text>
<text x="489.6" y="43.8" font-size="13.3" fill="#000">NMB = -0.22</text>
<text x="489.6" y="59.7" font-size="13.3" fill="#000">R = 0.72 (*)</text>
<text transform="translate(15.4,118.6) rotate(-90)" font-size="13" fill="#000">PM<tspan font-size="9.3" dy="3">2.5</tspan><tspan dy="-3"> (µg m</tspan><tspan font-size="9.3" dy="-5.3">−3</tspan><tspan dy="5.3">)</tspan></text>
<line x1="598" x2="613.8" y1="75.4" y2="75.4" stroke="#3510FF" stroke-width="2.8"/>
<circle cx="605.9" cy="95.8" r="2" fill="#000"/>
<text x="622.7" y="79.7" font-size="10.2" fill="#000">Modeling</text>
<text x="622.7" y="99.7" font-size="10.2" fill="#000">Observations</text>
<clipPath id="cb"><rect x="46.6" y="191.8" width="530.9" height="142.4"/></clipPath>
<rect x="46.6" y="191.8" width="530.9" height="142.4" fill="#fff"/>
<g clip-path="url(#cb)">
<rect x="99.42" y="191.8" width="47.16" height="142.4" fill="#EFDD83"/>
<rect x="146.58" y="191.8" width="141.48" height="142.4" fill="#F0FF87"/>
<rect x="335.22" y="191.8" width="15.72" height="142.4" fill="#DFFE9D"/>
<rect x="429.54" y="191.8" width="47.16" height="142.4" fill="#B0FFFB"/>
<line x1="46.6" x2="577.5" y1="306.7" y2="306.7" stroke="#000" stroke-opacity="0.05" stroke-width="0.7"/>
<line x1="46.6" x2="577.5" y1="263.3" y2="263.3" stroke="#000" stroke-opacity="0.05" stroke-width="0.7"/>
<line x1="46.6" x2="577.5" y1="219.9" y2="219.9" stroke="#000" stroke-opacity="0.05" stroke-width="0.7"/>
<line x1="46.6" x2="577.5" y1="328.4" y2="328.4" stroke="#000" stroke-opacity="0.08" stroke-width="1.2"/>
<line x1="46.6" x2="577.5" y1="285" y2="285" stroke="#000" stroke-opacity="0.08" stroke-width="1.2"/>
<line x1="46.6" x2="577.5" y1="241.6" y2="241.6" stroke="#000" stroke-opacity="0.08" stroke-width="1.2"/>
<line x1="46.6" x2="577.5" y1="198.2" y2="198.2" stroke="#000" stroke-opacity="0.08" stroke-width="1.2"/>
<line x1="52.26" x2="52.26" y1="191.8" y2="334.2" stroke="#000" stroke-opacity="0.05" stroke-width="0.7"/>
<line x1="67.98" x2="67.98" y1="191.8" y2="334.2" stroke="#000" stroke-opacity="0.05" stroke-width="0.7"/>
<line x1="83.7" x2="83.7" y1="191.8" y2="334.2" stroke="#000" stroke-opacity="0.08" stroke-width="1.2"/>
<line x1="99.42" x2="99.42" y1="191.8" y2="334.2" stroke="#000" stroke-opacity="0.05" stroke-width="0.7"/>
<line x1="115.14" x2="115.14" y1="191.8" y2="334.2" stroke="#000" stroke-opacity="0.05" stroke-width="0.7"/>
<line x1="130.86" x2="130.86" y1="191.8" y2="334.2" stroke="#000" stroke-opacity="0.08" stroke-width="1.2"/>
<line x1="146.58" x2="146.58" y1="191.8" y2="334.2" stroke="#000" stroke-opacity="0.05" stroke-width="0.7"/>
<line x1="162.3" x2="162.3" y1="191.8" y2="334.2" stroke="#000" stroke-opacity="0.05" stroke-width="0.7"/>
<line x1="178.02" x2="178.02" y1="191.8" y2="334.2" stroke="#000" stroke-opacity="0.08" stroke-width="1.2"/>
<line x1="193.74" x2="193.74" y1="191.8" y2="334.2" stroke="#000" stroke-opacity="0.05" stroke-width="0.7"/>
<line x1="209.46" x2="209.46" y1="191.8" y2="334.2" stroke="#000" stroke-opacity="0.05" stroke-width="0.7"/>
<line x1="225.18" x2="225.18" y1="191.8" y2="334.2" stroke="#000" stroke-opacity="0.08" stroke-width="1.2"/>
<line x1="240.9" x2="240.9" y1="191.8" y2="334.2" stroke="#000" stroke-opacity="0.05" stroke-width="0.7"/>
<line x1="256.62" x2="256.62" y1="191.8" y2="334.2" stroke="#000" stroke-opacity="0.05" stroke-width="0.7"/>
<line x1="272.34" x2="272.34" y1="191.8" y2="334.2" stroke="#000" stroke-opacity="0.08" stroke-width="1.2"/>
<line x1="288.06" x2="288.06" y1="191.8" y2="334.2" stroke="#000" stroke-opacity="0.05" stroke-width="0.7"/>
<line x1="303.78" x2="303.78" y1="191.8" y2="334.2" stroke="#000" stroke-opacity="0.05" stroke-width="0.7"/>
<line x1="319.5" x2="319.5" y1="191.8" y2="334.2" stroke="#000" stroke-opacity="0.08" stroke-width="1.2"/>
<line x1="335.22" x2="335.22" y1="191.8" y2="334.2" stroke="#000" stroke-opacity="0.05" stroke-width="0.7"/>
<line x1="350.94" x2="350.94" y1="191.8" y2="334.2" stroke="#000" stroke-opacity="0.05" stroke-width="0.7"/>
<line x1="366.66" x2="366.66" y1="191.8" y2="334.2" stroke="#000" stroke-opacity="0.08" stroke-width="1.2"/>
<line x1="382.38" x2="382.38" y1="191.8" y2="334.2" stroke="#000" stroke-opacity="0.05" stroke-width="0.7"/>
<line x1="398.1" x2="398.1" y1="191.8" y2="334.2" stroke="#000" stroke-opacity="0.05" stroke-width="0.7"/>
<line x1="413.82" x2="413.82" y1="191.8" y2="334.2" stroke="#000" stroke-opacity="0.08" stroke-width="1.2"/>
<line x1="429.54" x2="429.54" y1="191.8" y2="334.2" stroke="#000" stroke-opacity="0.05" stroke-width="0.7"/>
<line x1="445.26" x2="445.26" y1="191.8" y2="334.2" stroke="#000" stroke-opacity="0.05" stroke-width="0.7"/>
<line x1="460.98" x2="460.98" y1="191.8" y2="334.2" stroke="#000" stroke-opacity="0.08" stroke-width="1.2"/>
<line x1="476.7" x2="476.7" y1="191.8" y2="334.2" stroke="#000" stroke-opacity="0.05" stroke-width="0.7"/>
<line x1="492.42" x2="492.42" y1="191.8" y2="334.2" stroke="#000" stroke-opacity="0.05" stroke-width="0.7"/>
<line x1="508.14" x2="508.14" y1="191.8" y2="334.2" stroke="#000" stroke-opacity="0.08" stroke-width="1.2"/>
<line x1="523.86" x2="523.86" y1="191.8" y2="334.2" stroke="#000" stroke-opacity="0.05" stroke-width="0.7"/>
<line x1="539.58" x2="539.58" y1="191.8" y2="334.2" stroke="#000" stroke-opacity="0.05" stroke-width="0.7"/>
<line x1="555.3" x2="555.3" y1="191.8" y2="334.2" stroke="#000" stroke-opacity="0.08" stroke-width="1.2"/>
<line x1="571.02" x2="571.02" y1="191.8" y2="334.2" stroke="#000" stroke-opacity="0.05" stroke-width="0.7"/>
<rect x="429.54" y="191.8" width="47.16" height="142.4" fill="#B0FFFB" fill-opacity="0.85"/>
</g>
<g clip-path="url(#cb)">
<rect x="70.49" y="280.5" width="11.2" height="47.9" fill="#B2E6A8"/>
<rect x="70.49" y="274.2" width="11.2" height="6.3" fill="#4A8ABB"/>
<rect x="70.49" y="253.5" width="11.2" height="20.7" fill="#DE2320"/>
<rect x="70.49" y="253.5" width="11.2" height="74.9" fill="none" stroke="#111" stroke-width="1.1"/>
<line x1="70.49" x2="81.69" y1="274.2" y2="274.2" stroke="#111" stroke-width="1.1"/>
<line x1="70.49" x2="81.69" y1="280.5" y2="280.5" stroke="#111" stroke-width="1.1"/>
<rect x="86.21" y="273.5" width="11.2" height="54.9" fill="#B2E6A8"/>
<rect x="86.21" y="264.7" width="11.2" height="8.8" fill="#4A8ABB"/>
<rect x="86.21" y="248.7" width="11.2" height="16" fill="#DE2320"/>
<rect x="86.21" y="248.7" width="11.2" height="79.7" fill="none" stroke="#111" stroke-width="1.1"/>
<line x1="86.21" x2="97.41" y1="264.7" y2="264.7" stroke="#111" stroke-width="1.1"/>
<line x1="86.21" x2="97.41" y1="273.5" y2="273.5" stroke="#111" stroke-width="1.1"/>
<rect x="101.93" y="278.1" width="11.2" height="50.3" fill="#B2E6A8"/>
<rect x="101.93" y="269.5" width="11.2" height="8.6" fill="#4A8ABB"/>
<rect x="101.93" y="256.4" width="11.2" height="13.1" fill="#DE2320"/>
<rect x="101.93" y="256.4" width="11.2" height="72" fill="none" stroke="#111" stroke-width="1.1"/>
<line x1="101.93" x2="113.13" y1="269.5" y2="269.5" stroke="#111" stroke-width="1.1"/>
<line x1="101.93" x2="113.13" y1="278.1" y2="278.1" stroke="#111" stroke-width="1.1"/>
<rect x="117.65" y="271.3" width="11.2" height="57.1" fill="#B2E6A8"/>
<rect x="117.65" y="261.6" width="11.2" height="9.7" fill="#4A8ABB"/>
<rect x="117.65" y="249.8" width="11.2" height="11.8" fill="#DE2320"/>
<rect x="117.65" y="249.8" width="11.2" height="78.6" fill="none" stroke="#111" stroke-width="1.1"/>
<line x1="117.65" x2="128.85" y1="261.6" y2="261.6" stroke="#111" stroke-width="1.1"/>
<line x1="117.65" x2="128.85" y1="271.3" y2="271.3" stroke="#111" stroke-width="1.1"/>
<rect x="133.37" y="262.5" width="11.2" height="65.9" fill="#B2E6A8"/>
<rect x="133.37" y="251.1" width="11.2" height="11.4" fill="#4A8ABB"/>
<rect x="133.37" y="240.6" width="11.2" height="10.5" fill="#DE2320"/>
<rect x="133.37" y="240.6" width="11.2" height="87.8" fill="none" stroke="#111" stroke-width="1.1"/>
<line x1="133.37" x2="144.57" y1="251.1" y2="251.1" stroke="#111" stroke-width="1.1"/>
<line x1="133.37" x2="144.57" y1="262.5" y2="262.5" stroke="#111" stroke-width="1.1"/>
<rect x="149.09" y="270.9" width="11.2" height="57.5" fill="#B2E6A8"/>
<rect x="149.09" y="259.5" width="11.2" height="11.4" fill="#4A8ABB"/>
<rect x="149.09" y="250.2" width="11.2" height="9.3" fill="#DE2320"/>
<rect x="149.09" y="250.2" width="11.2" height="78.2" fill="none" stroke="#111" stroke-width="1.1"/>
<line x1="149.09" x2="160.29" y1="259.5" y2="259.5" stroke="#111" stroke-width="1.1"/>
<line x1="149.09" x2="160.29" y1="270.9" y2="270.9" stroke="#111" stroke-width="1.1"/>
<rect x="164.81" y="276.8" width="11.2" height="51.6" fill="#B2E6A8"/>
<rect x="164.81" y="266" width="11.2" height="10.8" fill="#4A8ABB"/>
<rect x="164.81" y="251.3" width="11.2" height="14.7" fill="#DE2320"/>
<rect x="164.81" y="251.3" width="11.2" height="77.1" fill="none" stroke="#111" stroke-width="1.1"/>
<line x1="164.81" x2="176.01" y1="266" y2="266" stroke="#111" stroke-width="1.1"/>
<line x1="164.81" x2="176.01" y1="276.8" y2="276.8" stroke="#111" stroke-width="1.1"/>
<rect x="180.53" y="274.2" width="11.2" height="54.2" fill="#B2E6A8"/>
<rect x="180.53" y="265.4" width="11.2" height="8.8" fill="#4A8ABB"/>
<rect x="180.53" y="239.9" width="11.2" height="25.5" fill="#DE2320"/>
<rect x="180.53" y="239.9" width="11.2" height="88.5" fill="none" stroke="#111" stroke-width="1.1"/>
<line x1="180.53" x2="191.73" y1="265.4" y2="265.4" stroke="#111" stroke-width="1.1"/>
<line x1="180.53" x2="191.73" y1="274.2" y2="274.2" stroke="#111" stroke-width="1.1"/>
<rect x="196.25" y="274.4" width="11.2" height="54" fill="#B2E6A8"/>
<rect x="196.25" y="266" width="11.2" height="8.4" fill="#4A8ABB"/>
<rect x="196.25" y="237.7" width="11.2" height="28.3" fill="#DE2320"/>
<rect x="196.25" y="237.7" width="11.2" height="90.7" fill="none" stroke="#111" stroke-width="1.1"/>
<line x1="196.25" x2="207.45" y1="266" y2="266" stroke="#111" stroke-width="1.1"/>
<line x1="196.25" x2="207.45" y1="274.4" y2="274.4" stroke="#111" stroke-width="1.1"/>
<rect x="211.97" y="285.8" width="11.2" height="42.6" fill="#B2E6A8"/>
<rect x="211.97" y="277.7" width="11.2" height="8.1" fill="#4A8ABB"/>
<rect x="211.97" y="247.2" width="11.2" height="30.5" fill="#DE2320"/>
<rect x="211.97" y="247.2" width="11.2" height="81.2" fill="none" stroke="#111" stroke-width="1.1"/>
<line x1="211.97" x2="223.17" y1="277.7" y2="277.7" stroke="#111" stroke-width="1.1"/>
<line x1="211.97" x2="223.17" y1="285.8" y2="285.8" stroke="#111" stroke-width="1.1"/>
<rect x="227.69" y="286.2" width="11.2" height="42.2" fill="#B2E6A8"/>
<rect x="227.69" y="277" width="11.2" height="9.2" fill="#4A8ABB"/>
<rect x="227.69" y="244.7" width="11.2" height="32.3" fill="#DE2320"/>
<rect x="227.69" y="244.7" width="11.2" height="83.7" fill="none" stroke="#111" stroke-width="1.1"/>
<line x1="227.69" x2="238.89" y1="277" y2="277" stroke="#111" stroke-width="1.1"/>
<line x1="227.69" x2="238.89" y1="286.2" y2="286.2" stroke="#111" stroke-width="1.1"/>
<rect x="243.41" y="289.3" width="11.2" height="39.1" fill="#B2E6A8"/>
<rect x="243.41" y="278.3" width="11.2" height="11" fill="#4A8ABB"/>
<rect x="243.41" y="250.2" width="11.2" height="28.1" fill="#DE2320"/>
<rect x="243.41" y="250.2" width="11.2" height="78.2" fill="none" stroke="#111" stroke-width="1.1"/>
<line x1="243.41" x2="254.61" y1="278.3" y2="278.3" stroke="#111" stroke-width="1.1"/>
<line x1="243.41" x2="254.61" y1="289.3" y2="289.3" stroke="#111" stroke-width="1.1"/>
<rect x="259.13" y="278.5" width="11.2" height="49.9" fill="#B2E6A8"/>
<rect x="259.13" y="266.7" width="11.2" height="11.8" fill="#4A8ABB"/>
<rect x="259.13" y="239.7" width="11.2" height="27" fill="#DE2320"/>
<rect x="259.13" y="239.7" width="11.2" height="88.7" fill="none" stroke="#111" stroke-width="1.1"/>
<line x1="259.13" x2="270.33" y1="266.7" y2="266.7" stroke="#111" stroke-width="1.1"/>
<line x1="259.13" x2="270.33" y1="278.5" y2="278.5" stroke="#111" stroke-width="1.1"/>
<rect x="274.85" y="274.4" width="11.2" height="54" fill="#B2E6A8"/>
<rect x="274.85" y="263.6" width="11.2" height="10.8" fill="#4A8ABB"/>
<rect x="274.85" y="238.2" width="11.2" height="25.4" fill="#DE2320"/>
<rect x="274.85" y="238.2" width="11.2" height="90.2" fill="none" stroke="#111" stroke-width="1.1"/>
<line x1="274.85" x2="286.05" y1="263.6" y2="263.6" stroke="#111" stroke-width="1.1"/>
<line x1="274.85" x2="286.05" y1="274.4" y2="274.4" stroke="#111" stroke-width="1.1"/>
<rect x="290.57" y="273.9" width="11.2" height="54.5" fill="#B2E6A8"/>
<rect x="290.57" y="260.5" width="11.2" height="13.4" fill="#4A8ABB"/>
<rect x="290.57" y="233.8" width="11.2" height="26.7" fill="#DE2320"/>
<rect x="290.57" y="233.8" width="11.2" height="94.6" fill="none" stroke="#111" stroke-width="1.1"/>
<line x1="290.57" x2="301.77" y1="260.5" y2="260.5" stroke="#111" stroke-width="1.1"/>
<line x1="290.57" x2="301.77" y1="273.9" y2="273.9" stroke="#111" stroke-width="1.1"/>
<rect x="306.29" y="298.1" width="11.2" height="30.3" fill="#B2E6A8"/>
<rect x="306.29" y="279.6" width="11.2" height="18.5" fill="#4A8ABB"/>
<rect x="306.29" y="253.3" width="11.2" height="26.3" fill="#DE2320"/>
<rect x="306.29" y="253.3" width="11.2" height="75.1" fill="none" stroke="#111" stroke-width="1.1"/>
<line x1="306.29" x2="317.49" y1="279.6" y2="279.6" stroke="#111" stroke-width="1.1"/>
<line x1="306.29" x2="317.49" y1="298.1" y2="298.1" stroke="#111" stroke-width="1.1"/>
<rect x="322.01" y="300.3" width="11.2" height="28.1" fill="#B2E6A8"/>
<rect x="322.01" y="278.3" width="11.2" height="22" fill="#4A8ABB"/>
<rect x="322.01" y="254.2" width="11.2" height="24.1" fill="#DE2320"/>
<rect x="322.01" y="254.2" width="11.2" height="74.2" fill="none" stroke="#111" stroke-width="1.1"/>
<line x1="322.01" x2="333.21" y1="278.3" y2="278.3" stroke="#111" stroke-width="1.1"/>
<line x1="322.01" x2="333.21" y1="300.3" y2="300.3" stroke="#111" stroke-width="1.1"/>
<rect x="337.73" y="273.1" width="11.2" height="55.3" fill="#B2E6A8"/>
<rect x="337.73" y="249.6" width="11.2" height="23.5" fill="#4A8ABB"/>
<rect x="337.73" y="229.4" width="11.2" height="20.2" fill="#DE2320"/>
<rect x="337.73" y="229.4" width="11.2" height="99" fill="none" stroke="#111" stroke-width="1.1"/>
<line x1="337.73" x2="348.93" y1="249.6" y2="249.6" stroke="#111" stroke-width="1.1"/>
<line x1="337.73" x2="348.93" y1="273.1" y2="273.1" stroke="#111" stroke-width="1.1"/>
<rect x="353.45" y="300.3" width="11.2" height="28.1" fill="#B2E6A8"/>
<rect x="353.45" y="283.6" width="11.2" height="16.7" fill="#4A8ABB"/>
<rect x="353.45" y="256.6" width="11.2" height="27" fill="#DE2320"/>
<rect x="353.45" y="256.6" width="11.2" height="71.8" fill="none" stroke="#111" stroke-width="1.1"/>
<line x1="353.45" x2="364.65" y1="283.6" y2="283.6" stroke="#111" stroke-width="1.1"/>
<line x1="353.45" x2="364.65" y1="300.3" y2="300.3" stroke="#111" stroke-width="1.1"/>
<rect x="369.17" y="300.5" width="11.2" height="27.9" fill="#B2E6A8"/>
<rect x="369.17" y="279.9" width="11.2" height="20.6" fill="#4A8ABB"/>
<rect x="369.17" y="255.7" width="11.2" height="24.2" fill="#DE2320"/>
<rect x="369.17" y="255.7" width="11.2" height="72.7" fill="none" stroke="#111" stroke-width="1.1"/>
<line x1="369.17" x2="380.37" y1="279.9" y2="279.9" stroke="#111" stroke-width="1.1"/>
<line x1="369.17" x2="380.37" y1="300.5" y2="300.5" stroke="#111" stroke-width="1.1"/>
<rect x="384.89" y="286" width="11.2" height="42.4" fill="#B2E6A8"/>
<rect x="384.89" y="279.4" width="11.2" height="6.6" fill="#4A8ABB"/>
<rect x="384.89" y="274.6" width="11.2" height="4.8" fill="#DE2320"/>
<rect x="384.89" y="274.6" width="11.2" height="53.8" fill="none" stroke="#111" stroke-width="1.1"/>
<line x1="384.89" x2="396.09" y1="279.4" y2="279.4" stroke="#111" stroke-width="1.1"/>
<line x1="384.89" x2="396.09" y1="286" y2="286" stroke="#111" stroke-width="1.1"/>
<rect x="400.61" y="313" width="11.2" height="15.4" fill="#B2E6A8"/>
<rect x="400.61" y="309.5" width="11.2" height="3.5" fill="#4A8ABB"/>
<rect x="400.61" y="307.7" width="11.2" height="1.8" fill="#DE2320"/>
<rect x="400.61" y="307.7" width="11.2" height="20.7" fill="none" stroke="#111" stroke-width="1.1"/>
<line x1="400.61" x2="411.81" y1="309.5" y2="309.5" stroke="#111" stroke-width="1.1"/>
<line x1="400.61" x2="411.81" y1="313" y2="313" stroke="#111" stroke-width="1.1"/>
<rect x="416.33" y="292.6" width="11.2" height="35.8" fill="#B2E6A8"/>
<rect x="416.33" y="286.2" width="11.2" height="6.4" fill="#4A8ABB"/>
<rect x="416.33" y="272" width="11.2" height="14.2" fill="#DE2320"/>
<rect x="416.33" y="272" width="11.2" height="56.4" fill="none" stroke="#111" stroke-width="1.1"/>
<line x1="416.33" x2="427.53" y1="286.2" y2="286.2" stroke="#111" stroke-width="1.1"/>
<line x1="416.33" x2="427.53" y1="292.6" y2="292.6" stroke="#111" stroke-width="1.1"/>
<rect x="432.05" y="285.6" width="11.2" height="42.8" fill="#B2E6A8"/>
<rect x="432.05" y="275.9" width="11.2" height="9.7" fill="#4A8ABB"/>
<rect x="432.05" y="260.5" width="11.2" height="15.4" fill="#DE2320"/>
<rect x="432.05" y="260.5" width="11.2" height="67.9" fill="none" stroke="#111" stroke-width="1.1"/>
<line x1="432.05" x2="443.25" y1="275.9" y2="275.9" stroke="#111" stroke-width="1.1"/>
<line x1="432.05" x2="443.25" y1="285.6" y2="285.6" stroke="#111" stroke-width="1.1"/>
<rect x="447.77" y="265.6" width="11.2" height="62.8" fill="#B2E6A8"/>
<rect x="447.77" y="255.5" width="11.2" height="10.1" fill="#4A8ABB"/>
<rect x="447.77" y="241.5" width="11.2" height="14" fill="#DE2320"/>
<rect x="447.77" y="241.5" width="11.2" height="86.9" fill="none" stroke="#111" stroke-width="1.1"/>
<line x1="447.77" x2="458.97" y1="255.5" y2="255.5" stroke="#111" stroke-width="1.1"/>
<line x1="447.77" x2="458.97" y1="265.6" y2="265.6" stroke="#111" stroke-width="1.1"/>
<rect x="463.49" y="275.5" width="11.2" height="52.9" fill="#B2E6A8"/>
<rect x="463.49" y="261.6" width="11.2" height="13.9" fill="#4A8ABB"/>
<rect x="463.49" y="250.2" width="11.2" height="11.4" fill="#DE2320"/>
<rect x="463.49" y="250.2" width="11.2" height="78.2" fill="none" stroke="#111" stroke-width="1.1"/>
<line x1="463.49" x2="474.69" y1="261.6" y2="261.6" stroke="#111" stroke-width="1.1"/>
<line x1="463.49" x2="474.69" y1="275.5" y2="275.5" stroke="#111" stroke-width="1.1"/>
<rect x="479.21" y="302.2" width="11.2" height="26.2" fill="#B2E6A8"/>
<rect x="479.21" y="288.9" width="11.2" height="13.3" fill="#4A8ABB"/>
<rect x="479.21" y="284.9" width="11.2" height="4" fill="#DE2320"/>
<rect x="479.21" y="284.9" width="11.2" height="43.5" fill="none" stroke="#111" stroke-width="1.1"/>
<line x1="479.21" x2="490.41" y1="288.9" y2="288.9" stroke="#111" stroke-width="1.1"/>
<line x1="479.21" x2="490.41" y1="302.2" y2="302.2" stroke="#111" stroke-width="1.1"/>
<rect x="494.93" y="309.5" width="11.2" height="18.9" fill="#B2E6A8"/>
<rect x="494.93" y="296.1" width="11.2" height="13.4" fill="#4A8ABB"/>
<rect x="494.93" y="295" width="11.2" height="1.1" fill="#DE2320"/>
<rect x="494.93" y="295" width="11.2" height="33.4" fill="none" stroke="#111" stroke-width="1.1"/>
<line x1="494.93" x2="506.13" y1="296.1" y2="296.1" stroke="#111" stroke-width="1.1"/>
<line x1="494.93" x2="506.13" y1="309.5" y2="309.5" stroke="#111" stroke-width="1.1"/>
<rect x="510.65" y="316.5" width="11.2" height="11.9" fill="#B2E6A8"/>
<rect x="510.65" y="298.3" width="11.2" height="18.2" fill="#4A8ABB"/>
<rect x="510.65" y="297.9" width="11.2" height="0.4" fill="#DE2320"/>
<rect x="510.65" y="297.9" width="11.2" height="30.5" fill="none" stroke="#111" stroke-width="1.1"/>
<line x1="510.65" x2="521.85" y1="298.3" y2="298.3" stroke="#111" stroke-width="1.1"/>
<line x1="510.65" x2="521.85" y1="316.5" y2="316.5" stroke="#111" stroke-width="1.1"/>
<rect x="526.37" y="308.4" width="11.2" height="20" fill="#B2E6A8"/>
<rect x="526.37" y="296.1" width="11.2" height="12.3" fill="#4A8ABB"/>
<rect x="526.37" y="295.2" width="11.2" height="0.9" fill="#DE2320"/>
<rect x="526.37" y="295.2" width="11.2" height="33.2" fill="none" stroke="#111" stroke-width="1.1"/>
<line x1="526.37" x2="537.57" y1="296.1" y2="296.1" stroke="#111" stroke-width="1.1"/>
<line x1="526.37" x2="537.57" y1="308.4" y2="308.4" stroke="#111" stroke-width="1.1"/>
<rect x="542.09" y="282.5" width="11.2" height="45.9" fill="#B2E6A8"/>
<rect x="542.09" y="276.1" width="11.2" height="6.4" fill="#4A8ABB"/>
<rect x="542.09" y="272.4" width="11.2" height="3.7" fill="#DE2320"/>
<rect x="542.09" y="272.4" width="11.2" height="56" fill="none" stroke="#111" stroke-width="1.1"/>
<line x1="542.09" x2="553.29" y1="276.1" y2="276.1" stroke="#111" stroke-width="1.1"/>
<line x1="542.09" x2="553.29" y1="282.5" y2="282.5" stroke="#111" stroke-width="1.1"/>
<line x1="46.6" x2="577.5" y1="328.4" y2="328.4" stroke="#000" stroke-width="1.3"/>
</g>
<rect x="46.6" y="191.8" width="530.9" height="142.4" fill="none" stroke="#444444" stroke-width="1.1"/>
<line x1="83.7" x2="83.7" y1="334.2" y2="337.2" stroke="#444444" stroke-width="1.2"/>
<text x="83.7" y="348.6" text-anchor="middle" font-size="10.2" fill="#4D4D4D">Oct 12</text>
<line x1="130.86" x2="130.86" y1="334.2" y2="337.2" stroke="#444444" stroke-width="1.2"/>
<text x="130.86" y="348.6" text-anchor="middle" font-size="10.2" fill="#4D4D4D">Oct 15</text>
<line x1="178.02" x2="178.02" y1="334.2" y2="337.2" stroke="#444444" stroke-width="1.2"/>
<text x="178.02" y="348.6" text-anchor="middle" font-size="10.2" fill="#4D4D4D">Oct 18</text>
<line x1="225.18" x2="225.18" y1="334.2" y2="337.2" stroke="#444444" stroke-width="1.2"/>
<text x="225.18" y="348.6" text-anchor="middle" font-size="10.2" fill="#4D4D4D">Oct 21</text>
<line x1="272.34" x2="272.34" y1="334.2" y2="337.2" stroke="#444444" stroke-width="1.2"/>
<text x="272.34" y="348.6" text-anchor="middle" font-size="10.2" fill="#4D4D4D">Oct 24</text>
<line x1="319.5" x2="319.5" y1="334.2" y2="337.2" stroke="#444444" stroke-width="1.2"/>
<text x="319.5" y="348.6" text-anchor="middle" font-size="10.2" fill="#4D4D4D">Oct 27</text>
<line x1="366.66" x2="366.66" y1="334.2" y2="337.2" stroke="#444444" stroke-width="1.2"/>
<text x="366.66" y="348.6" text-anchor="middle" font-size="10.2" fill="#4D4D4D">Oct 30</text>
<line x1="413.82" x2="413.82" y1="334.2" y2="337.2" stroke="#444444" stroke-width="1.2"/>
<text x="413.82" y="348.6" text-anchor="middle" font-size="10.2" fill="#4D4D4D">Nov 02</text>
<line x1="460.98" x2="460.98" y1="334.2" y2="337.2" stroke="#444444" stroke-width="1.2"/>
<text x="460.98" y="348.6" text-anchor="middle" font-size="10.2" fill="#4D4D4D">Nov 05</text>
<line x1="508.14" x2="508.14" y1="334.2" y2="337.2" stroke="#444444" stroke-width="1.2"/>
<text x="508.14" y="348.6" text-anchor="middle" font-size="10.2" fill="#4D4D4D">Nov 08</text>
<line x1="555.3" x2="555.3" y1="334.2" y2="337.2" stroke="#444444" stroke-width="1.2"/>
<text x="555.3" y="348.6" text-anchor="middle" font-size="10.2" fill="#4D4D4D">Nov 11</text>
<line x1="43.6" x2="46.6" y1="328.4" y2="328.4" stroke="#444444" stroke-width="1.2"/>
<text x="40" y="333" text-anchor="end" font-size="10.2" fill="#4D4D4D">0</text>
<line x1="43.6" x2="46.6" y1="285" y2="285" stroke="#444444" stroke-width="1.2"/>
<text x="40" y="289.6" text-anchor="end" font-size="10.2" fill="#4D4D4D">5</text>
<line x1="43.6" x2="46.6" y1="241.6" y2="241.6" stroke="#444444" stroke-width="1.2"/>
<text x="40" y="246.2" text-anchor="end" font-size="10.2" fill="#4D4D4D">10</text>
<line x1="43.6" x2="46.6" y1="198.2" y2="198.2" stroke="#444444" stroke-width="1.2"/>
<text x="40" y="202.8" text-anchor="end" font-size="10.2" fill="#4D4D4D">15</text>
<text x="54.5" y="214.4" font-size="16.6" font-weight="bold" fill="#000">(b)</text>
<text x="123.85" y="213.1" text-anchor="middle" font-size="14" fill="#000">E1-1</text>
<text x="218.1" y="213.1" text-anchor="middle" font-size="14" fill="#000">E1-2</text>
<text x="343.8" y="213.1" text-anchor="middle" font-size="14" fill="#000">E2</text>
<text x="454.2" y="213.1" text-anchor="middle" font-size="14" fill="#000">E3</text>
<text transform="translate(21.2,325.6) rotate(-90)" font-size="13" fill="#000">PM<tspan font-size="9.3" dy="3">2.5</tspan><tspan dy="-3"> sulfate (µg m</tspan><tspan font-size="9.3" dy="-5.3">−3</tspan><tspan dy="5.3">)</tspan></text>
<text x="597.2" y="234.4" font-size="12.7" fill="#000">Sources</text>
<rect x="597.7" y="242.8" width="18.5" height="18.5" fill="#DE2320" stroke="#111" stroke-width="1.1"/>
<text x="623.6" y="256.3" font-size="10.4" fill="#000">Background</text>
<rect x="597.7" y="263.1" width="18.5" height="18.5" fill="#4A8ABB" stroke="#111" stroke-width="1.1"/>
<text x="623.6" y="276.4" font-size="10.4" fill="#000">Local</text>
<rect x="597.7" y="283.4" width="18.5" height="18.5" fill="#B2E6A8" stroke="#111" stroke-width="1.1"/>
<text x="623.6" y="296.1" font-size="10.4" fill="#000">Regional</text>
<text x="55.1" y="385.2" font-size="16.6" font-weight="bold" fill="#000">(c)</text>
<text x="120.7" y="386.9" text-anchor="middle" font-size="15.4" fill="#000">E1-1</text>
<path d="M121.4,451.9 L121.4,405.3 A46.6,46.6 0 1 1 75.17,457.74 Z" fill="#B2E6A8" stroke="#A8A8A8" stroke-width="0.9" stroke-linejoin="round"/>
<path d="M121.4,451.9 L75.17,457.74 A46.6,46.6 0 0 1 85.49,422.2 Z" fill="#4A8ABB" stroke="#A8A8A8" stroke-width="0.9" stroke-linejoin="round"/>
<path d="M121.4,451.9 L85.49,422.2 A46.6,46.6 0 0 1 121.4,405.3 Z" fill="#DE2320" stroke="#A8A8A8" stroke-width="0.9" stroke-linejoin="round"/>
<text x="109" y="428.8" text-anchor="middle" font-size="15.2" fill="#000">14%</text>
<text x="93.2" y="449.6" text-anchor="middle" font-size="15.2" fill="#000">13%</text>
<text x="136.3" y="472.6" text-anchor="middle" font-size="15.2" fill="#000">73%</text>
<text x="245.2" y="386.9" text-anchor="middle" font-size="15.4" fill="#000">E1-2</text>
<path d="M244.8,451.9 L244.8,405.3 A46.6,46.6 0 1 1 219.83,491.25 Z" fill="#B2E6A8" stroke="#A8A8A8" stroke-width="0.9" stroke-linejoin="round"/>
<path d="M244.8,451.9 L219.83,491.25 A46.6,46.6 0 0 1 199.66,463.49 Z" fill="#4A8ABB" stroke="#A8A8A8" stroke-width="0.9" stroke-linejoin="round"/>
<path d="M244.8,451.9 L199.66,463.49 A46.6,46.6 0 0 1 244.8,405.3 Z" fill="#DE2320" stroke="#A8A8A8" stroke-width="0.9" stroke-linejoin="round"/>
<text x="221.9" y="441.5" text-anchor="middle" font-size="15.2" fill="#000">29%</text>
<text x="220.5" y="475.2" text-anchor="middle" font-size="15.2" fill="#000">12%</text>
<text x="267.8" y="462.5" text-anchor="middle" font-size="15.2" fill="#000">59%</text>
<text x="368" y="386.9" text-anchor="middle" font-size="15.4" fill="#000">E2</text>
<path d="M368.3,451.9 L368.3,405.3 A46.6,46.6 0 1 1 351.15,495.23 Z" fill="#B2E6A8" stroke="#A8A8A8" stroke-width="0.9" stroke-linejoin="round"/>
<path d="M368.3,451.9 L351.15,495.23 A46.6,46.6 0 0 1 323.98,437.5 Z" fill="#4A8ABB" stroke="#A8A8A8" stroke-width="0.9" stroke-linejoin="round"/>
<path d="M368.3,451.9 L323.98,437.5 A46.6,46.6 0 0 1 368.3,405.3 Z" fill="#DE2320" stroke="#A8A8A8" stroke-width="0.9" stroke-linejoin="round"/>
<text x="350.5" y="432.9" text-anchor="middle" font-size="15.2" fill="#000">20%</text>
<text x="346" y="468.1" text-anchor="middle" font-size="15.2" fill="#000">24%</text>
<text x="391.3" y="460.5" text-anchor="middle" font-size="15.2" fill="#000">56%</text>
<text x="491.5" y="386.9" text-anchor="middle" font-size="15.4" fill="#000">E3</text>
<path d="M491.7,451.9 L491.7,405.3 A46.6,46.6 0 1 1 449.54,471.74 Z" fill="#B2E6A8" stroke="#A8A8A8" stroke-width="0.9" stroke-linejoin="round"/>
<path d="M491.7,451.9 L449.54,471.74 A46.6,46.6 0 0 1 449.54,432.06 Z" fill="#4A8ABB" stroke="#A8A8A8" stroke-width="0.9" stroke-linejoin="round"/>
<path d="M491.7,451.9 L449.54,432.06 A46.6,46.6 0 0 1 491.7,405.3 Z" fill="#DE2320" stroke="#A8A8A8" stroke-width="0.9" stroke-linejoin="round"/>
<text x="475.3" y="432.5" text-anchor="middle" font-size="15.2" fill="#000">18%</text>
<text x="462.8" y="455.6" text-anchor="middle" font-size="15.2" fill="#000">14%</text>
<text x="509" y="473.2" text-anchor="middle" font-size="15.2" fill="#000">68%</text>
</svg></body></html>
